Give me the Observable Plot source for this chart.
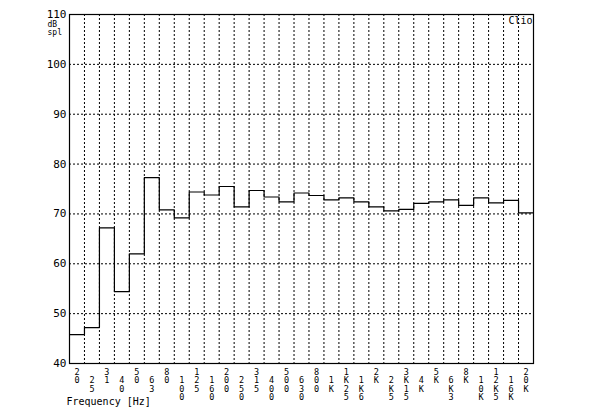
<!DOCTYPE html>
<html>
<head>
<meta charset="utf-8">
<script src="https://cdn.jsdelivr.net/npm/d3@7"></script>
<script src="https://cdn.jsdelivr.net/npm/@observablehq/plot@0.6"></script>
<style>
  html, body { margin: 0; padding: 0; background: #fff; }
  #chart { width: 600px; height: 410px; }
</style>
</head>
<body>
<div id="chart"></div>
<script>
// Third-octave band labels (as printed, stacked vertically)
const bands = ["20","25","31","40","50","63","80","100","125","160","200","250","315","400","500","630","800","1K","1K25","1K6","2K","2K5","3K15","4K","5K","6K3","8K","10K","12K5","16K","20K"];
// SPL level per band (dB)
const levels = [45.8,47.2,67.2,54.4,62.0,77.3,70.8,69.2,74.4,73.8,75.5,71.4,74.7,73.4,72.4,74.2,73.7,72.8,73.2,72.4,71.4,70.6,70.9,72.1,72.4,72.8,71.7,73.2,72.2,72.7,70.2];
const yTicks = [40,50,60,70,80,90,100,110];
const yGrid = [50,60,70,80,90,100];

const n = bands.length;
const stepData = levels.map((v, i) => ({x: i, y: v}));
stepData.push({x: n, y: levels[n - 1]});
const boundaries = d3.range(1, n);
const labelData = bands.map((b, i) => ({x: i + 0.5, t: b.split("").join("\n"), odd: i % 2 === 1}));

const font = "DejaVu Sans Mono, monospace";

const chart = Plot.plot({
  width: 600,
  height: 410,
  marginLeft: 69,
  marginRight: 67,
  marginTop: 14,
  marginBottom: 47,
  style: {fontFamily: font, fontSize: "10px", background: "#fff", color: "#000"},
  x: {domain: [0, n], axis: null},
  y: {domain: [40, 110], axis: null},
  marks: [
    Plot.ruleX(boundaries, {stroke: "#000", strokeWidth: 1, strokeDasharray: "2,2"}),
    Plot.ruleY(yGrid, {stroke: "#000", strokeWidth: 1, strokeDasharray: "2,2"}),
    Plot.line(stepData, {x: "x", y: "y", curve: "step-after", stroke: "#000", strokeWidth: 1.2}),
    Plot.frame({stroke: "#000", strokeWidth: 1.2}),
    Plot.axisY({ticks: yTicks, tickSize: 0, tickPadding: 3, label: null, fontSize: 11, fontFamily: font}),
    Plot.text(["dB"], {frameAnchor: "top-left", textAnchor: "start", lineAnchor: "middle", dx: -22, dy: 10, fontSize: 8, fontFamily: font}),
    Plot.text(["spl"], {frameAnchor: "top-left", textAnchor: "start", lineAnchor: "middle", dx: -22, dy: 18, fontSize: 8, fontFamily: font}),
    Plot.text(["Clio"], {frameAnchor: "top-right", textAnchor: "end", lineAnchor: "top", dx: -1, dy: 2, fontSize: 10, fontFamily: font}),
    Plot.text(labelData.filter(d => !d.odd), {x: "x", text: "t", frameAnchor: "bottom", lineAnchor: "top", dy: 5, lineHeight: 1, fontSize: 8.5, fontFamily: font}),
    Plot.text(labelData.filter(d => d.odd), {x: "x", text: "t", frameAnchor: "bottom", lineAnchor: "top", dy: 13.5, lineHeight: 1, fontSize: 8.5, fontFamily: font}),
    Plot.text(["Frequency [Hz]"], {frameAnchor: "bottom-left", textAnchor: "start", lineAnchor: "top", dx: -3, dy: 34, fontSize: 10, fontFamily: font})
  ]
});
document.getElementById("chart").appendChild(chart);
</script>
</body>
</html>
